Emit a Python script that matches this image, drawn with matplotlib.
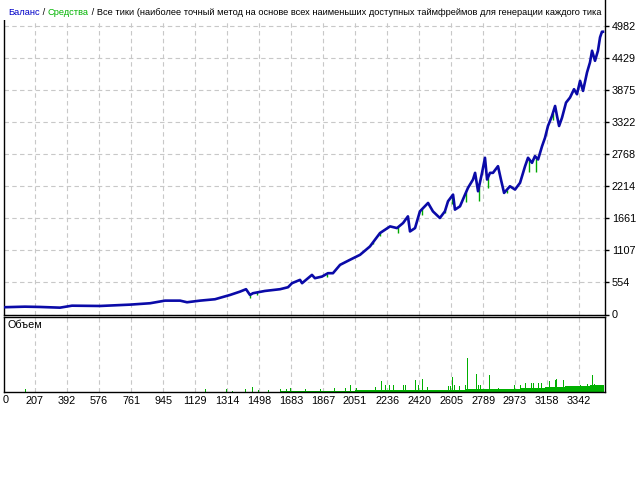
import matplotlib
matplotlib.use('Agg')
import matplotlib.pyplot as plt
from matplotlib.patches import Rectangle
import numpy as np

# ---- data ----
trade_idx = [23, 149, 236, 351, 420, 582, 754, 870, 956, 1043, 1083, 1158, 1244, 1331, 1388,
             1423, 1446, 1463, 1532, 1619, 1665, 1688, 1734, 1746, 1803, 1820, 1861, 1895,
             1924, 1965, 2022, 2080, 2137, 2195, 2253, 2293, 2328, 2356, 2368, 2397, 2425,
             2472, 2500, 2540, 2569, 2587, 2616, 2627, 2656, 2685, 2702, 2731, 2743, 2760,
             2783, 2800, 2812, 2829, 2846, 2875, 2892, 2910, 2944, 2973, 3002, 3031, 3048,
             3071, 3088, 3106, 3129, 3146, 3163, 3186, 3204, 3215, 3227, 3244, 3267, 3290,
             3313, 3330, 3348, 3365, 3388, 3405, 3417, 3434, 3451, 3463, 3474, 3480]
balance = [125, 135, 130, 118, 152, 147, 170, 194, 239, 239, 211, 239, 263, 337, 394,
           436, 337, 367, 406, 436, 470, 540, 597, 540, 683, 626, 654, 712,
           712, 856, 943, 1029, 1173, 1404, 1519, 1490, 1577, 1692, 1432, 1490, 1778,
           1923, 1778, 1664, 1778, 1952, 2067, 1808, 1865, 2067, 2183, 2327, 2442, 2125,
           2442, 2702, 2327, 2442, 2442, 2557, 2327, 2096, 2211, 2154, 2270, 2557, 2702,
           2615, 2730, 2673, 2903, 3048, 3250, 3422, 3595, 3422, 3250, 3394, 3653, 3740,
           3884, 3797, 4028, 3855, 4173, 4345, 4547, 4374, 4547, 4778, 4875, 4875]

equity_dip_idx = [1446, 1486, 1515, 1890, 2155, 2195, 2299, 2437, 2569, 2610, 2691, 2765,
                  2818, 2927, 3054, 3094, 3192]
equity_dip_low = [290, 330, 390, 650, 1219, 1353, 1405, 1716, 1750, 1905, 1945, 1962,
                  2175, 2100, 2452, 2463, 3353]

vol_base_start = [1620, 1820, 2051, 2333, 2587, 2685, 2771, 3002, 3146, 3261, 3405]
vol_base_end = [1820, 2051, 2333, 2587, 2685, 2771, 3002, 3146, 3261, 3405, 3486]
vol_base_lots = [0.01, 0.01, 0.02, 0.02, 0.02, 0.03, 0.03, 0.04, 0.05, 0.06, 0.07]

vol_spike_idx = [149, 1187, 1308, 1342, 1417, 1457, 1492, 1550, 1619, 1653, 1676, 1763,
                 1849, 1930, 1993, 2022, 2057, 2166, 2201, 2224, 2247, 2270, 2328, 2339,
                 2397, 2414, 2437, 2466, 2587, 2598, 2610, 2622, 2650, 2685, 2697, 2748,
                 2760, 2771, 2823, 2875, 2967, 3002, 3031, 3065, 3077, 3106, 3123, 3169,
                 3203, 3209, 3250, 3348, 3388, 3417, 3428]
vol_spike_lots = [0.03, 0.03, 0.03, 0.01, 0.03, 0.05, 0.02, 0.02, 0.03, 0.03, 0.04, 0.03,
                  0.03, 0.04, 0.04, 0.07, 0.04, 0.05, 0.11, 0.07, 0.07, 0.07, 0.07, 0.07,
                  0.12, 0.07, 0.13, 0.05, 0.06, 0.06, 0.15, 0.07, 0.06, 0.07, 0.34, 0.18,
                  0.07, 0.07, 0.17, 0.04, 0.07, 0.07, 0.09, 0.09, 0.09, 0.09, 0.09, 0.11,
                  0.12, 0.13, 0.12, 0.07, 0.08, 0.17, 0.08]

y_ticks = [0, 554, 1107, 1661, 2214, 2768, 3322, 3875, 4429, 4982]
x_ticks = [207, 392, 576, 761, 945, 1129, 1314, 1498, 1683, 1867, 2051, 2236, 2420,
           2605, 2789, 2973, 3158, 3342]

title_parts = ["Баланс", " / ", "Средства", " / Все тики (наиболее точный метод на основе всех наименьших доступных таймфреймов для генерации каждого тика"]
title_colors = ["#0000c8", "#000000", "#00b400", "#000000"]

# ---- layout ----
W, H = 640, 480
FONT = ['Liberation Sans', 'DejaVu Sans']
plt.rcParams['font.family'] = FONT
fig = plt.figure(figsize=(6.4, 4.8), dpi=100)

def rect(l, t, r, b):
    return [l / W, 1 - b / H, (r - l) / W, (b - t) / H]

ax = fig.add_axes(rect(3.5, 0, 605, 314.5))
axv = fig.add_axes(rect(3.5, 316.5, 605, 392))

XMIN, XMAX = 25.5, 3491.6
grid_kw = dict(color='#c8c8c8', linestyle=(0, (4, 3)), linewidth=0.8)
spine_lw = 1.0
TICK_FS = 7.8
TITLE_FS = 6.65

# top panel
ax.set_xlim(XMIN, XMAX)
ax.set_ylim(0, 5422)
ax.set_xticks(x_ticks)
ax.set_xticklabels([])
ax.tick_params(axis='x', length=0)
ax.set_yticks(y_ticks)
ax.set_yticklabels([str(v) for v in y_ticks], fontsize=TICK_FS)
ax.yaxis.tick_right()
ax.tick_params(axis='y', length=3, width=1, pad=2, direction='out')
ax.grid(True, **grid_kw)
ax.set_axisbelow(True)
for s in ['left', 'right', 'bottom']:
    ax.spines[s].set_linewidth(spine_lw)
ax.spines['top'].set_visible(False)

bal_at_dips = np.interp(equity_dip_idx, trade_idx, balance)
ax.vlines(equity_dip_idx, equity_dip_low, bal_at_dips, color='#00a800', linewidth=1.0, zorder=2)
ax.plot(trade_idx, balance, color='#0a0aa8', linewidth=1.9, zorder=3)

# white strip behind the title
ax.add_patch(Rectangle((-0.01, 1 - 20 / 314.5), 1.0, 20 / 314.5 + 0.01,
                       transform=ax.transAxes, facecolor='white', edgecolor='none',
                       zorder=4, clip_on=False))

# multi-coloured title
t = ax.text(5.0 / 601.5, 1 - 12.5 / 314.5, title_parts[0], transform=ax.transAxes,
            color=title_colors[0], fontsize=TITLE_FS, va='center', ha='left', clip_on=True,
            zorder=5)
prev = t
for txt, col in zip(title_parts[1:], title_colors[1:]):
    a = ax.annotate(txt, xy=(1, 0), xycoords=prev, va='bottom', ha='left', color=col,
                    fontsize=TITLE_FS, clip_on=True, zorder=5, annotation_clip=False)
    prev = a

# volume panel
axv.set_xlim(XMIN, XMAX)
axv.set_ylim(0, 0.755)
axv.set_yticks([])
axv.set_xticks(x_ticks)
axv.set_xticklabels([str(v) for v in x_ticks], fontsize=TICK_FS)
axv.tick_params(axis='x', length=0, pad=3)
axv.grid(True, axis='x', **grid_kw)
axv.set_axisbelow(True)
for s in axv.spines.values():
    s.set_linewidth(spine_lw)

vol_color = '#00b000'
widths = [e - s for s, e in zip(vol_base_start, vol_base_end)]
axv.bar(vol_base_start, vol_base_lots, width=widths, align='edge', color=vol_color,
        linewidth=0, zorder=2)
axv.bar(vol_spike_idx, vol_spike_lots, width=5.5, align='edge', color=vol_color,
        linewidth=0, zorder=2)
axv.text((8 - 3.5) / 601.5, (392 - 325) / 75.5, 'Объем', transform=axv.transAxes,
         fontsize=TICK_FS, va='center', ha='left')

fig.text(6 / W, 1 - 400 / H, '0', fontsize=TICK_FS, ha='center', va='center')

fig.savefig('out.png', dpi=100)
